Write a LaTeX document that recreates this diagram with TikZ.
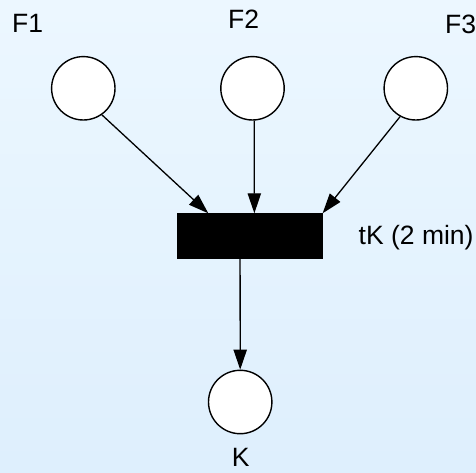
\documentclass[tikz,border=0pt]{standalone}
\usepackage{fontspec}
\setmainfont{Liberation Sans}
\usetikzlibrary{arrows.meta,calc}
\definecolor{bgtop}{RGB}{236,247,255}
\definecolor{bgbot}{RGB}{222,239,253}
\tikzset{
  place/.style={circle,draw=black,fill=white,line width=1.4pt,minimum size=63.4pt,inner sep=0pt},
  transition/.style={rectangle,draw=black,fill=black,line width=0.8pt,minimum width=145pt,minimum height=44.6pt,inner sep=0pt},
  lbl/.style={inner sep=0pt,font=\fontsize{26.5}{30}\selectfont},
  arc/.style={draw=black,line width=1.3pt,-{Triangle[length=20pt,width=13.3pt]}}
}
\begin{document}
\begin{tikzpicture}[x=1pt,y=-1pt]
  \useasboundingbox (0,0) rectangle (476,473);
  % background: light blue, slightly deeper towards the bottom
  \begin{scope}
    \clip (0,0) rectangle (476,473);
    \foreach \i in {0,...,42} {
      \pgfmathsetmacro{\share}{100-\i*100/42}
      \fill[bgtop!\share!bgbot] (0,\i*11) rectangle (476,\i*11+11.6);
    }
  \end{scope}

  % places
  \node[place] (F1) at (83.3,88.3) {};
  \node[place] (F2) at (252.5,88.3) {};
  \node[place] (F3) at (415.8,88.3) {};
  \node[place] (K)  at (240.2,402) {};

  % transition
  \node[transition] (tK) at (249.7,236) {};

  % labels
  \node[lbl,anchor=base west] (lF1) at (12,32.3) {F1};
  \node[lbl,anchor=base west] (lF2) at (228,29) {F2};
  \node[lbl,anchor=base west] (lF3) at (445,33.3) {F3};
  \node[lbl,anchor=base west] (ltK) at (358.5,244) {tK (2 min)};
  \node[lbl,anchor=base] (lK) at (240.8,466) {K};

  % arcs
  \draw[arc] (F1.-55) -- ($(tK.north west)!0.216!(tK.north east)$);
  \draw[arc] (F2.-87) -- ($(tK.north west)!0.532!(tK.north east)$);
  \draw[arc] (F3.-119) -- (tK.north east);
  \draw[arc] ($(tK.south west)!0.434!(tK.south east)$) -- (K.north);
\end{tikzpicture}
\end{document}
